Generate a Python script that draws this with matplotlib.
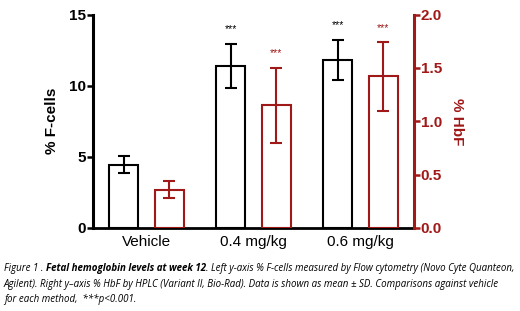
import numpy as np
import matplotlib.pyplot as plt

# data
groups = ["Vehicle", "0.4 mg/kg", "0.6 mg/kg"]
fcells_mean = [4.45, 11.4, 11.8]
fcells_sd = [0.6, 1.55, 1.4]
hbf_mean = [0.36, 1.15, 1.42]
hbf_sd = [0.08, 0.35, 0.32]
fcells_sig = ["", "***", "***"]
hbf_sig = ["", "***", "***"]

RED = "#A01818"
plt.rcParams['font.family'] = ['Liberation Sans', 'DejaVu Sans']

fig = plt.figure(figsize=(5.2, 3.11), dpi=100)
ax1 = fig.add_axes([0.179, 0.267, 0.617, 0.686])
ax2 = ax1.twinx()

x = np.arange(len(groups))
w = 0.27; off = 0.213

# --- bars + SD ---
ax1.bar(x - off, fcells_mean, w, yerr=fcells_sd, color='white', edgecolor='black',
        linewidth=1.5, error_kw=dict(ecolor='black', elinewidth=1.5, capsize=4.3, capthick=1.5))
ax2.bar(x + off, hbf_mean, w, yerr=hbf_sd, color='none', edgecolor=RED,
        linewidth=1.5, error_kw=dict(ecolor=RED, elinewidth=1.5, capsize=4.3, capthick=1.5))

# --- significance stars ---
for i in range(len(groups)):
    if fcells_sig[i]:
        ax1.annotate(fcells_sig[i], (x[i] - off, fcells_mean[i] + fcells_sd[i]),
                     xytext=(0, 7), textcoords='offset points', ha='center', va='bottom',
                     fontsize=7.5, color='black')
    if hbf_sig[i]:
        ax2.annotate(hbf_sig[i], (x[i] + off, hbf_mean[i] + hbf_sd[i]),
                     xytext=(0, 7), textcoords='offset points', ha='center', va='bottom',
                     fontsize=7.5, color=RED)

# --- axes styling ---
ax1.set_xlim(-0.5, 2.5)
ax1.set_ylim(0, 15)
ax1.set_yticks([0, 5, 10, 15])
ax2.set_ylim(0, 2)
ax2.set_yticks([0, 0.5, 1.0, 1.5, 2.0])
ax2.set_yticklabels([f'{v:.1f}' for v in [0, 0.5, 1.0, 1.5, 2.0]])

ax1.set_xticks(x)
ax1.set_xticklabels(groups, fontsize=11)
ax1.tick_params(axis='x', length=0, pad=5)
ax1.tick_params(axis='y', length=4, width=1.8, pad=1, labelsize=11)
ax2.tick_params(axis='y', length=4, width=1.8, pad=1, labelsize=11, colors=RED)
for lab in ax1.get_yticklabels():
    lab.set_fontweight('bold')
for lab in ax2.get_yticklabels():
    lab.set_fontweight('bold')

for s in ['top', 'right']:
    ax1.spines[s].set_visible(False)
for s in ['top', 'left', 'bottom']:
    ax2.spines[s].set_visible(False)
ax1.spines['left'].set_linewidth(2.2)
ax1.spines['bottom'].set_linewidth(2.0)
ax2.spines['right'].set_linewidth(2.2)
ax2.spines['right'].set_color(RED)

ax1.set_ylabel("% F-cells", fontsize=11, fontweight='bold', labelpad=7)
ax2.set_ylabel("% HbF", fontsize=11, fontweight='bold', color=RED, rotation=270,
               labelpad=16)

# --- caption with mixed bold / italic ---
cap_font = dict(fontsize=7, style='italic', family=['Open Sans', 'DejaVu Sans'], va='center')
lines = [
    [("Figure 1 . ", 'normal'), ("Fetal hemoglobin levels at week 12", 'bold'),
     (". Left y-axis % F-cells measured by Flow cytometry (Novo Cyte Quanteon,", 'normal')],
    [("Agilent). Right y\u2013axis % HbF by HPLC (Variant II, Bio-Rad). Data is shown as mean \u00b1 SD. Comparisons against vehicle", 'normal')],
    [("for each method,  ***p<0.001.", 'normal')],
]
ys = [268, 284, 299]
r = fig.canvas.get_renderer()
for parts, yp in zip(lines, ys):
    xp = 4
    for s, wt in parts:
        t = fig.text(xp / 520, 1 - yp / 311, s, fontweight=wt, **cap_font)
        xp += t.get_window_extent(r).width

fig.savefig('out.png', dpi=100)
